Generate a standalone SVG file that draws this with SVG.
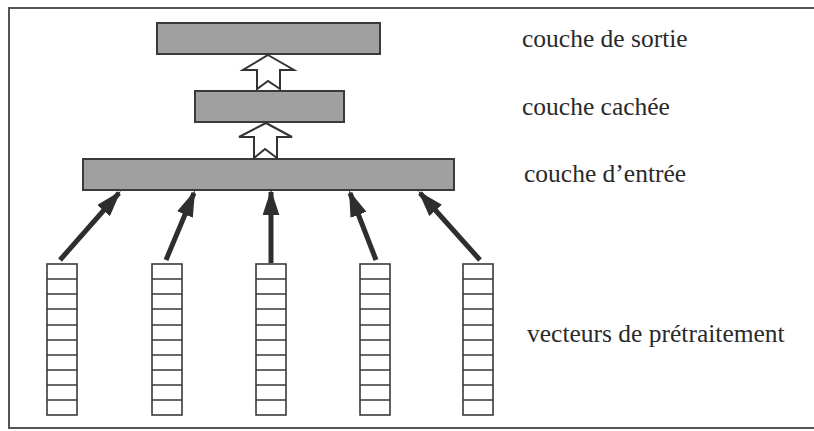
<svg xmlns="http://www.w3.org/2000/svg" width="814" height="431" viewBox="0 0 814 431">
<defs>
<style>
.bar{fill:#a0a0a0;stroke:#3a3a3a;stroke-width:2}
.hollow{fill:#fff;stroke:#333;stroke-width:2;stroke-linejoin:miter}
.vec{fill:#fff;stroke:#3a3a3a;stroke-width:1.6}
.cell{stroke:#3a3a3a;stroke-width:1.6}
.conn{stroke:#2e2e2e;stroke-width:5;fill:none}
.lbl{font-family:"Liberation Serif","Times New Roman",serif;font-size:25.5px;fill:#2a2a2a}
</style>
<marker id="ah" viewBox="0 0 10 10" refX="9" refY="5" markerWidth="5.2" markerHeight="3.4" orient="auto" markerUnits="strokeWidth" preserveAspectRatio="none">
<path d="M0,0 L10,5 L0,10 Z" fill="#2e2e2e"/>
</marker>
</defs>
<rect width="814" height="431" fill="#fff"/>
<path d="M816,8 H9 V428 H816" fill="none" stroke="#555" stroke-width="2"/>

<g id="output-layer"><rect class="bar" x="157" y="23" width="223" height="31"/></g>
<g id="hidden-layer"><rect class="bar" x="195" y="91" width="149" height="31"/></g>
<g id="input-layer"><rect class="bar" x="83" y="159" width="371" height="31"/></g>

<g id="vec1"><rect class="vec" x="47" y="264" width="30" height="151"/>
<path class="cell" d="M47,279H77M47,294H77M47,309H77M47,325H77M47,340H77M47,355H77M47,370H77M47,385H77M47,400H77"/></g>
<g id="vec2"><rect class="vec" x="152" y="264" width="30" height="151"/>
<path class="cell" d="M152,279H182M152,294H182M152,309H182M152,325H182M152,340H182M152,355H182M152,370H182M152,385H182M152,400H182"/></g>
<g id="vec3"><rect class="vec" x="256" y="264" width="30" height="151"/>
<path class="cell" d="M256,279H286M256,294H286M256,309H286M256,325H286M256,340H286M256,355H286M256,370H286M256,385H286M256,400H286"/></g>
<g id="vec4"><rect class="vec" x="360" y="264" width="30" height="151"/>
<path class="cell" d="M360,279H390M360,294H390M360,309H390M360,325H390M360,340H390M360,355H390M360,370H390M360,385H390M360,400H390"/></g>
<g id="vec5"><rect class="vec" x="463" y="264" width="30" height="151"/>
<path class="cell" d="M463,279H493M463,294H493M463,309H493M463,325H493M463,340H493M463,355H493M463,370H493M463,385H493M463,400H493"/></g>

<g id="connectors">
<path class="hollow" d="M268,55 L294,70 L280,70 L280,89 L268,81 L257,89 L257,70 L243,70 Z"/>
<path class="hollow" d="M266,123 L292,137 L277,137 L277,158 L265,149 L254,158 L254,137 L239,137 Z"/>
<line class="conn" x1="60" y1="260" x2="119" y2="193" marker-end="url(#ah)"/>
<line class="conn" x1="166" y1="260" x2="194" y2="193" marker-end="url(#ah)"/>
<line class="conn" x1="271" y1="263" x2="271" y2="192" marker-end="url(#ah)"/>
<line class="conn" x1="376" y1="260" x2="350" y2="193" marker-end="url(#ah)"/>
<line class="conn" x1="480" y1="260" x2="420" y2="193" marker-end="url(#ah)"/>
</g>

<g id="labels">
<text class="lbl" x="522" y="47">couche de sortie</text>
<text class="lbl" x="522" y="115">couche cachée</text>
<text class="lbl" x="524" y="182">couche d’entrée</text>
<text class="lbl" x="527" y="342">vecteurs de prétraitement</text>
</g>
</svg>
